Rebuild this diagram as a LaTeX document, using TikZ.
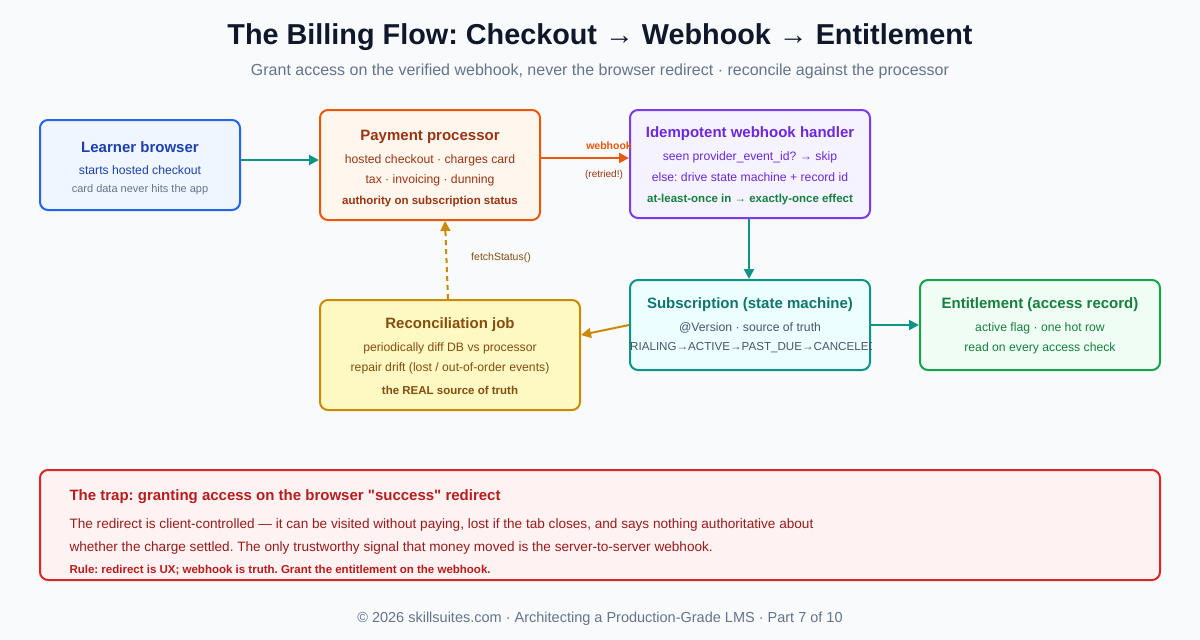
\documentclass[tikz,border=0pt]{standalone}
\usepackage{fontspec}
\setmainfont{Liberation Sans}
\usetikzlibrary{arrows.meta}
\frenchspacing
\definecolor{bg}{HTML}{F8FAFC}
\definecolor{cblue}{HTML}{2563EB}\definecolor{fblue}{HTML}{EFF6FF}
\definecolor{corange}{HTML}{EA580C}\definecolor{forange}{HTML}{FFF7ED}
\definecolor{cpurple}{HTML}{7C3AED}\definecolor{fpurple}{HTML}{F5F3FF}
\definecolor{cteal}{HTML}{0D9488}\definecolor{fteal}{HTML}{ECFEFF}
\definecolor{cgreen}{HTML}{16A34A}\definecolor{fgreen}{HTML}{F0FDF4}
\definecolor{cyel}{HTML}{CA8A04}\definecolor{fyel}{HTML}{FEF9C3}
\definecolor{cred}{HTML}{DC2626}\definecolor{fred}{HTML}{FEF2F2}
\definecolor{dark}{HTML}{0F172A}\definecolor{gray}{HTML}{64748B}
\definecolor{tblue}{HTML}{1E40AF}\definecolor{torange}{HTML}{9A3412}
\definecolor{tpurple}{HTML}{6D28D9}\definecolor{tteal}{HTML}{0F766E}
\definecolor{tgreen}{HTML}{15803D}\definecolor{tyel}{HTML}{854D0E}
\definecolor{tred}{HTML}{991B1B}\definecolor{hred}{HTML}{B91C1C}
\definecolor{tslate}{HTML}{475569}
\tikzset{
  box/.style={rounded corners=8pt, line width=2pt},
  t/.style={font=\fontsize{15}{17}\selectfont\bfseries, anchor=center},
  l/.style={font=\fontsize{12.2}{14}\selectfont, anchor=center},
  s/.style={font=\fontsize{11}{13}\selectfont, anchor=center},
  b/.style={font=\fontsize{11.5}{13}\selectfont\bfseries, anchor=center},
  conn/.style={line width=2pt, cteal, -{Triangle[length=10pt,width=10pt]}},
}
\begin{document}
\begin{tikzpicture}[x=1pt,y=-1pt]
\fill[bg] (0,0) rectangle (1200,640);
\useasboundingbox (0,0) rectangle (1200,640);
\node[font=\fontsize{28.8}{33}\selectfont\bfseries, text=dark] (title) at (600,37) {The Billing Flow: Checkout → Webhook → Entitlement};
\node[font=\fontsize{16}{19}\selectfont, text=gray] (sub) at (600,71) {Grant access on the verified webhook, never the browser redirect · reconcile against the processor};
% boxes
\draw[box, cblue, fill=fblue] (40,120) rectangle (240,210);
\node[t, text=tblue] (lb1) at (140,147) {Learner browser};
\node[l, text=tblue] (lb2) at (140,170) {starts hosted checkout};
\node[s, text=gray] (lb3) at (140,190) {card data never hits the app};
\draw[box, corange, fill=forange] (320,110) rectangle (540,220);
\node[t, text=torange] at (430,137) {Payment processor};
\node[l, text=torange] at (430,160) {hosted checkout · charges card};
\node[l, text=torange] at (430,180) {tax · invoicing · dunning};
\node[b, text=torange] at (430,202) {authority on subscription status};
\draw[box, cpurple, fill=fpurple] (630,110) rectangle (870,218);
\node[t, text=tpurple] at (750,134) {Idempotent webhook handler};
\node[l, text=tpurple] at (750,157) {seen provider\_event\_id? → skip};
\node[l, text=tpurple] at (750,177) {else: drive state machine + record id};
\node[b, text=tgreen] at (750,200) {at-least-once in → exactly-once effect};
\draw[box, cteal, fill=fteal] (630,280) rectangle (870,370);
\node[t, text=tteal] at (750,305) {Subscription (state machine)};
\node[l, text=tslate] at (750,328) {@Version · source of truth};
\begin{scope}
\clip (629,281) rectangle (871,369);
\node[l, text=tslate, font=\fontsize{11.6}{14}\selectfont] at (750,348) {TRIALING→ACTIVE→PAST\_DUE→CANCELED};
\end{scope}
\draw[box, cgreen, fill=fgreen] (920,280) rectangle (1160,370);
\node[t, text=tgreen] at (1040,305) {Entitlement (access record)};
\node[l, text=tgreen] at (1040,328) {active flag · one hot row};
\node[l, text=tgreen] at (1040,348) {read on every access check};
\draw[box, cyel, fill=fyel] (320,300) rectangle (580,410);
\node[t, text=tyel] at (450,325) {Reconciliation job};
\node[l, text=tyel] at (450,348) {periodically diff DB vs processor};
\node[l, text=tyel] at (450,368) {repair drift (lost / out-of-order events)};
\node[b, text=tyel] at (450,390) {the REAL source of truth};
\draw[box, cred, fill=fred] (40,470) rectangle (1160,580);
\node[t, text=hred, anchor=west] at (66,497) {The trap: granting access on the browser \textquotedbl success\textquotedbl\ redirect};
\node[l, text=tred, anchor=west, font=\fontsize{13.6}{15}\selectfont] at (66,525) {The redirect is client-controlled — it can be visited without paying, lost if the tab closes, and says nothing authoritative about};
\node[l, text=tred, anchor=west, font=\fontsize{13.6}{15}\selectfont] at (66,548) {whether the charge settled. The only trustworthy signal that money moved is the server-to-server webhook.};
\node[b, text=hred, anchor=west] at (66,570) {Rule: redirect is UX; webhook is truth. Grant the entitlement on the webhook.};
\node[font=\fontsize{14.5}{17}\selectfont, text=gray] (foot) at (600,619) {© 2026 skillsuites.com · Architecting a Production-Grade LMS · Part 7 of 10};
% connectors
\coordinate (a1) at (241,160); \coordinate (a2) at (319,160);
\draw[conn] (a1) -- (a2);
\coordinate (b1) at (541,158); \coordinate (b2) at (629,158);
\draw[conn, draw=corange] (b1) -- (b2);
\node[font=\fontsize{10.5}{12}\selectfont\bfseries, text=corange] at (609,146) {webhook};
\node[font=\fontsize{10}{11}\selectfont, text=torange] at (604,175) {(retried!)};
\coordinate (c1) at (749,219); \coordinate (c2) at (749,279);
\draw[conn] (c1) -- (c2);
\coordinate (d1) at (629,325); \coordinate (d2) at (581,335);
\draw[conn, draw=cyel] (d1) -- (d2);
\coordinate (e1) at (871,325); \coordinate (e2) at (919,325);
\draw[conn] (e1) -- (e2);
\coordinate (f1) at (448,299); \coordinate (f2) at (445,221);
\draw[conn, draw=cyel, dashed, dash pattern=on 5pt off 4pt] (f1) -- (f2);
\node[font=\fontsize{10.5}{12}\selectfont, text=tyel] at (501,258) {fetchStatus()};
\end{tikzpicture}
\end{document}
